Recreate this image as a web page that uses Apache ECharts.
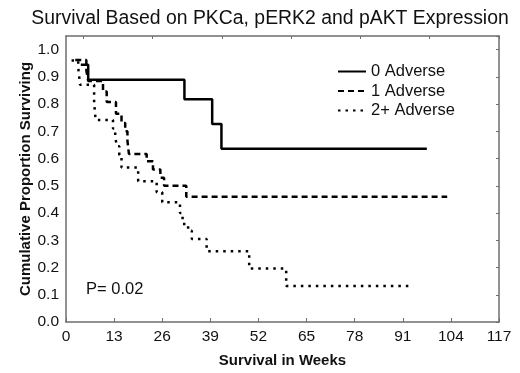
<!DOCTYPE html>
<html>
<head>
<meta charset="UTF-8">
<title>Survival Based on PKCa, pERK2 and pAKT Expression</title>
<script src="https://cdn.jsdelivr.net/npm/echarts@6.0.0/dist/echarts.min.js"></script>
<style>
  html, body { margin: 0; padding: 0; background: #fff; }
  #main { width: 520px; height: 373px; }
</style>
</head>
<body>
<div id="main"></div>
<script>
// 坐标轴刻度
var weekTicks = [0, 13, 26, 39, 52, 65, 78, 91, 104, 117];
var seriesNames = ['0 Adverse', '1 Adverse', '2+ Adverse'];

// 生存曲线数据 [周, 累计生存比例]
var adverse0 = [[4, 0.944], [6, 0.889], [32, 0.818], [39.5, 0.727], [42, 0.636], [97.5, 0.636]];
var adverse1 = [[2.5, 0.962], [5.5, 0.923], [6, 0.885], [10, 0.846], [11, 0.808], [13.5, 0.765],
  [15, 0.731], [16, 0.700], [16.6, 0.665], [17, 0.617], [21.8, 0.590], [23.5, 0.560],
  [25.5, 0.530], [26.5, 0.500], [32.5, 0.460], [103, 0.460]];
var adverse2 = [[1.5, 0.960], [3.3, 0.935], [3.8, 0.871], [7.6, 0.806], [8, 0.742], [12.7, 0.710],
  [13.3, 0.677], [13.8, 0.645], [14.4, 0.613], [15, 0.567], [19.5, 0.517], [24.5, 0.476],
  [26, 0.440], [30.8, 0.400], [31.5, 0.360], [33, 0.335], [34, 0.305], [38, 0.260],
  [49.5, 0.196], [59.5, 0.132], [93.5, 0.132]];

var myChart = echarts.init(document.getElementById('main'));

var axisGray = '#6e6e6e';
var font = 'Liberation Sans, Arial, sans-serif';

var option = {
  backgroundColor: '#ffffff',
  animation: false,
  title: {
    text: 'Survival Based on PKCa, pERK2 and pAKT Expression',
    left: 265,
    textAlign: 'center',
    top: 4,
    textStyle: { fontFamily: font, fontSize: 19.4, fontWeight: 'normal', color: '#111' }
  },
  legend: {
    orient: 'vertical',
    left: 332,
    top: 58,
    itemWidth: 28,
    itemHeight: 14,
    itemGap: 2.5,
    data: seriesNames,
    itemStyle: { opacity: 0 },
    textStyle: { fontFamily: font, fontSize: 16.5, color: '#111' }
  },
  grid: { left: 66, right: 21, top: 36, bottom: 49 },
  xAxis: [{
    type: 'value',
    min: weekTicks[0],
    max: weekTicks[weekTicks.length - 1],
    interval: 13,
    name: 'Survival in Weeks',
    nameLocation: 'middle',
    nameGap: 31,
    nameTextStyle: { fontFamily: font, fontSize: 15, fontWeight: 'bold', color: '#111' },
    axisLine: { onZero: false, lineStyle: { color: axisGray, width: 1.5 } },
    axisTick: { inside: true, length: 4, lineStyle: { color: axisGray } },
    axisLabel: { fontFamily: font, fontSize: 15.5, color: '#111', margin: 7 },
    splitLine: { show: false }
  }, {
    // 顶部边框
    type: 'value',
    position: 'top',
    min: -1,
    max: 24,
    axisLine: { show: true, onZero: false, lineStyle: { color: axisGray, width: 1.5 } },
    axisTick: { show: true, inside: true, length: 3, lineStyle: { color: axisGray },
      customValues: [0, 4, 8, 12, 16, 20, 24] },
    axisLabel: { show: false },
    splitLine: { show: false }
  }],
  yAxis: [{
    type: 'value',
    min: 0,
    max: 1.05,
    interval: 0.1,
    name: 'Cumulative Proportion Surviving',
    nameLocation: 'middle',
    nameGap: 33,
    nameMoveOverlap: false,
    nameTextStyle: { fontFamily: font, fontSize: 15, fontWeight: 'bold', color: '#111' },
    axisLine: { show: true, onZero: false, lineStyle: { color: axisGray, width: 1.5 } },
    axisTick: { show: false },
    axisLabel: {
      fontFamily: font, fontSize: 15.5, color: '#111', margin: 7, showMaxLabel: false,
      formatter: function (v) { return v.toFixed(1); }
    },
    splitLine: { show: false }
  }, {
    type: 'value',
    position: 'right',
    min: 0,
    max: 1.05,
    interval: 0.1,
    axisLine: { show: true, onZero: false, lineStyle: { color: axisGray, width: 1.5 } },
    axisTick: { show: true, inside: true, length: 3, lineStyle: { color: axisGray } },
    axisLabel: { show: false },
    splitLine: { show: false }
  }],
  series: [{
    name: seriesNames[0],
    type: 'line',
    step: 'end',
    symbol: 'none',
    data: adverse0,
    lineStyle: { color: '#000', width: 2.5, type: 'solid' },
    itemStyle: { color: '#000' }
  }, {
    name: seriesNames[1],
    type: 'line',
    step: 'end',
    symbol: 'none',
    data: adverse1,
    lineStyle: { color: '#000', width: 2.5, type: [6, 4] },
    itemStyle: { color: '#000' }
  }, {
    name: seriesNames[2],
    type: 'line',
    step: 'end',
    symbol: 'none',
    data: adverse2,
    lineStyle: { color: '#000', width: 2.5, type: [2.5, 5] },
    itemStyle: { color: '#000' }
  }],
  graphic: [{
    type: 'text',
    left: 86,
    top: 281,
    style: { text: 'P= 0.02', fontFamily: font, fontSize: 16.5, fill: '#111' }
  }]
};

myChart.setOption(option);
</script>
</body>
</html>
